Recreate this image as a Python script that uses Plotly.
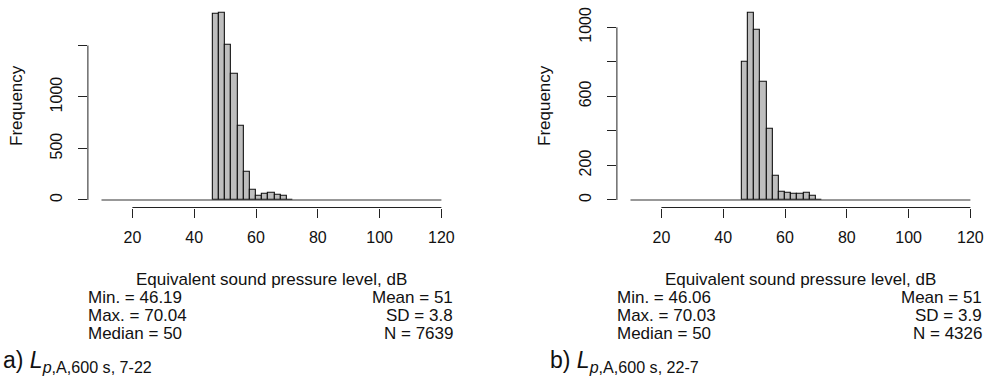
import plotly.graph_objects as go

# ---- data ----
bin_width = 2
bin_starts = [46, 48, 50, 52, 54, 56, 58, 60, 62, 64, 66, 68, 70]
counts_a = [1803, 1822, 1502, 1223, 718, 275, 97, 42, 58, 68, 49, 36, 1]
counts_b = [803, 1087, 986, 683, 413, 143, 48, 44, 35, 35, 39, 25, 1]
break_range = [10, 120]
x_tick_vals = [20, 40, 60, 80, 100, 120]
y_ticks_a = [0, 500, 1000, 1500]
y_ticklabels_a = ["0", "500", "1000", ""]
y_ticks_b = [0, 200, 400, 600, 800, 1000]
y_ticklabels_b = ["0", "200", "", "600", "", "1000"]
stats_a = {"left": ["Min. = 46.19", "Max. = 70.04", "Median = 50"],
           "right": ["Mean = 51", "SD = 3.8", "N = 7639"]}
stats_b = {"left": ["Min. = 46.06", "Max. = 70.03", "Median = 50"],
           "right": ["Mean = 51", "SD = 3.9", "N = 4326"]}
x_title = "Equivalent sound pressure level, dB"
y_title = "Frequency"
caption_a = "a) <i>L</i><sub><i>p</i>,A,600 s, 7-22</sub>"
caption_b = "b) <i>L</i><sub><i>p</i>,A,600 s, 22-7</sub>"

W, H = 987, 390
FONT = "Liberation Sans, Arial, Helvetica, sans-serif"

def px_x(p):
    return p / W

def px_y(p):
    return 1 - p / H

panels = [
    dict(counts=counts_a, yt=y_ticks_a, ytl=y_ticklabels_a, stats=stats_a,
         cap=caption_a, x0=87.9, x1=455.0, cap_x=0.5, ytitle_x=17.0),
    dict(counts=counts_b, yt=y_ticks_b, ytl=y_ticklabels_b, stats=stats_b,
         cap=caption_b, x0=616.9, x1=984.0, cap_x=548.0, ytitle_x=545.0),
]

y_top_px, y_bot_px = 4.8, 207.5

fig = go.Figure()
annotations = []
shapes = []

xpad = 0.04 * (break_range[1] - break_range[0])
for i, p in enumerate(panels):
    n = "" if i == 0 else str(i + 1)
    xa, ya = "x" + n, "y" + n
    centers = [s + bin_width / 2 for s in bin_starts]
    fig.add_trace(go.Scatter(x=break_range, y=[0, 0], mode="lines",
                             line=dict(color="#333333", width=1.2),
                             xaxis=xa, yaxis=ya, showlegend=False,
                             hoverinfo="skip"))
    fig.add_trace(go.Bar(x=centers, y=p["counts"], width=bin_width,
                         marker=dict(color="#BEBEBE",
                                     line=dict(color="#111111", width=1.1)),
                         xaxis=xa, yaxis=ya, showlegend=False))
    ymax = max(p["counts"])
    fig.update_layout(**{
        "xaxis" + n: dict(domain=[px_x(p["x0"]), px_x(p["x1"])],
                          range=[break_range[0] - xpad, break_range[1] + xpad],
                          anchor=ya, showgrid=False, zeroline=False,
                          showline=False, ticks="outside", ticklen=9,
                          tickwidth=1, tickcolor="#222222",
                          tickvals=x_tick_vals, ticklabelstandoff=6,
                          tickfont=dict(family=FONT, size=16, color="#111111")),
        "yaxis" + n: dict(domain=[px_y(y_bot_px), px_y(y_top_px)],
                          range=[-0.04 * ymax, 1.04 * ymax],
                          anchor=xa, showgrid=False, zeroline=False,
                          showline=False, ticks="outside", ticklen=9,
                          tickwidth=1, tickcolor="#222222",
                          tickvals=p["yt"], ticktext=p["ytl"], tickangle=-90,
                          ticklabelstandoff=10,
                          tickfont=dict(family=FONT, size=16, color="#111111")),
    })
    # R-style axis lines spanning the tick range
    shapes.append(dict(type="line", xref=xa, yref=ya + " domain",
                       x0=x_tick_vals[0], x1=x_tick_vals[-1], y0=0, y1=0,
                       line=dict(color="#222222", width=1)))
    shapes.append(dict(type="line", xref=xa + " domain", yref=ya,
                       x0=0, x1=0, y0=p["yt"][0], y1=p["yt"][-1],
                       line=dict(color="#222222", width=1)))
    fnt = dict(family=FONT, size=17, color="#111111")
    annotations.append(dict(text=x_title, x=px_x((p["x0"] + p["x1"]) / 2),
                            y=px_y(279.5), xref="paper", yref="paper",
                            showarrow=False, xanchor="center", yanchor="middle",
                            font=fnt))
    for k, yy in enumerate([297.5, 315.5, 333.5]):
        annotations.append(dict(text=p["stats"]["left"][k], x=px_x(p["x0"] - 1.5),
                                y=px_y(yy), xref="paper", yref="paper",
                                showarrow=False, xanchor="left",
                                yanchor="middle", font=fnt))
        annotations.append(dict(text=p["stats"]["right"][k], x=px_x(p["x1"]),
                                y=px_y(yy), xref="paper", yref="paper",
                                showarrow=False, xanchor="right",
                                yanchor="middle", font=fnt))
    annotations.append(dict(text=y_title, x=px_x(p["ytitle_x"]),
                            y=px_y(106),
                            xref="paper", yref="paper", textangle=-90,
                            showarrow=False, xanchor="center",
                            yanchor="middle", font=fnt))
    annotations.append(dict(text=p["cap"], x=px_x(p["cap_x"]), y=px_y(361),
                            xref="paper", yref="paper", showarrow=False,
                            xanchor="left", yanchor="middle",
                            font=dict(family=FONT, size=23, color="#111111")))

fig.update_layout(width=W, height=H, margin=dict(l=0, r=0, t=0, b=0),
                  paper_bgcolor="white", plot_bgcolor="white",
                  bargap=0, annotations=annotations, shapes=shapes,
                  font=dict(family=FONT))
fig.write_html("out.html", config={"displayModeBar": False},
               post_script="document.body.style.margin='0';"
                           "document.body.style.padding='0';"
                           "document.body.style.overflow='hidden';")
